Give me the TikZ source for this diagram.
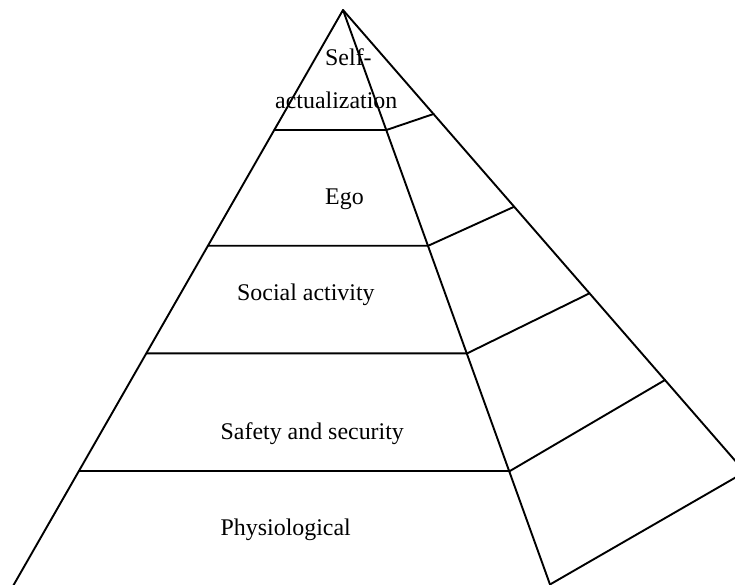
\documentclass[tikz,border=0pt]{standalone}
\usepackage{fontspec}
\setmainfont{Liberation Serif}
\begin{document}
\begin{tikzpicture}[x=1pt,y=-1pt,
  edge/.style={line width=1.9pt, line cap=round, line join=round},
  lbl/.style={anchor=base west, inner sep=0pt, font=\fontsize{23.9}{28}\selectfont}]
\useasboundingbox (0,0) rectangle (735,584);
\clip (0,0) rectangle (735,584);

% apex and the three long edges
\coordinate (apex) at (343,10);
\coordinate (lbot) at (5,600);
\coordinate (fbot) at (555.6,600);
\coordinate (back) at (745,472);

% tier boundaries: left edge, front-right edge, back edge
\coordinate (l1) at (274.3,130);   \coordinate (r1) at (386.4,130);   \coordinate (b1) at (433.5,114);
\coordinate (l2) at (208.0,245.7); \coordinate (r2) at (428.3,245.7); \coordinate (b2) at (514.2,206.7);
\coordinate (l3) at (146.4,353.3); \coordinate (r3) at (467.3,353.3); \coordinate (b3) at (589.5,293.3);
\coordinate (l4) at (79.0,471);    \coordinate (r4) at (509.9,471);   \coordinate (b4) at (665,380);
\coordinate (r5) at (550.8,584);

% pyramid outline
\draw[edge] (lbot) -- (apex) -- (fbot);
\draw[edge] (apex) -- (back) -- (r5);

% horizontal tiers on the front face and their side continuations
\draw[edge] (l1) -- (r1) -- (b1);
\draw[edge] (l2) -- (r2) -- (b2);
\draw[edge] (l3) -- (r3) -- (b3);
\draw[edge] (l4) -- (r4) -- (b4);

% tier labels
\node[lbl] (self) at (325,65) {Self-};
\node[lbl] (act) at (275,108) {actualization};
\node[lbl] (ego) at (325,204) {Ego};
\node[lbl] (social) at (237,300) {Social activity};
\node[lbl] (safety) at (220.5,439) {Safety and security};
\node[lbl] (phys) at (220.5,535) {Physiological};
\end{tikzpicture}
\end{document}
